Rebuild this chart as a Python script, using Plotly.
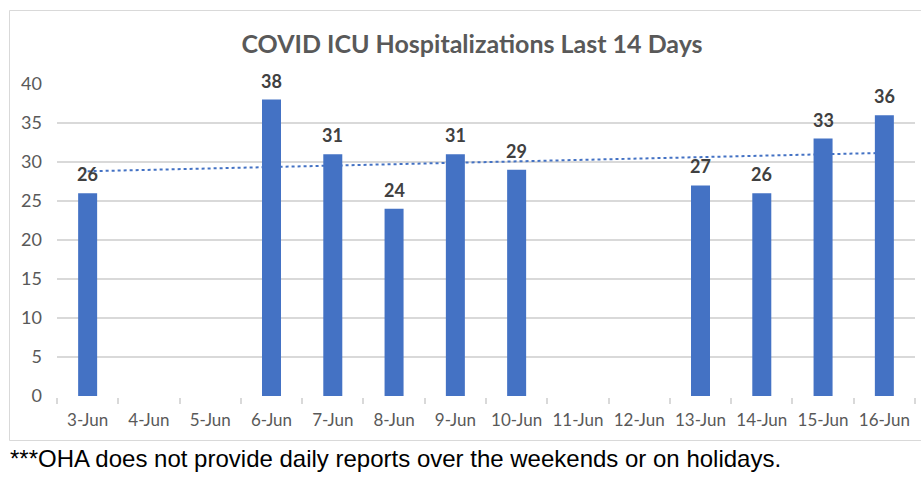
import numpy as np
import plotly.graph_objects as go

days = ["3-Jun", "4-Jun", "5-Jun", "6-Jun", "7-Jun", "8-Jun", "9-Jun",
        "10-Jun", "11-Jun", "12-Jun", "13-Jun", "14-Jun", "15-Jun", "16-Jun"]
icu = [26, None, None, 38, 31, 24, 31, 29, None, None, 27, 26, 33, 36]
y_ticks = [0, 5, 10, 15, 20, 25, 30, 35, 40]

title_text = "COVID ICU Hospitalizations Last 14 Days"
footnote = "***OHA does not provide daily reports over the weekends or on holidays."

BLUE = "#4472C4"
GRID = "#d9d9d9"

# linear trendline (Excel-style) over reported days
idx = np.array([i + 1 for i, v in enumerate(icu) if v is not None], dtype=float)
vals = np.array([v for v in icu if v is not None], dtype=float)
slope, intercept = np.polyfit(idx, vals, 1)
trend = [slope * (i + 1) + intercept for i in range(len(days))]

fig = go.Figure()
fig.add_trace(go.Scatter(
    x=days, y=trend, mode="lines",
    line=dict(color=BLUE, width=2, dash="dot"),
    hoverinfo="skip", zorder=0, showlegend=False,
))
fig.add_trace(go.Bar(
    x=days, y=icu, marker=dict(color=BLUE, line=dict(width=0)),
    width=0.31, zorder=1, showlegend=False,
))

for d, v in zip(days, icu):
    if v is None:
        continue
    fig.add_annotation(
        x=d, y=v, text=f"<b>{v}</b>", showarrow=False,
        yanchor="bottom", yshift=6,
        font=dict(family="Lato, Open Sans, sans-serif", size=18, color="#404040"),
    )

# plot area geometry (px)
L, R, T, B = 57, 6, 84, 97
W, H = 921, 493
pw, ph = W - L - R, H - T - B

def px_x(p):
    return (p - L) / pw

def px_y(p):
    return (H - B - p) / ph

fig.add_shape(
    type="rect", xref="paper", yref="paper",
    x0=px_x(9.5), x1=px_x(930), y0=px_y(440.5), y1=px_y(10.5),
    line=dict(color=GRID, width=1), fillcolor="rgba(0,0,0,0)", layer="below",
)

fig.add_annotation(
    xref="paper", yref="paper", x=px_x(8), y=px_y(458),
    xanchor="left", yanchor="middle", showarrow=False,
    text=footnote,
    font=dict(family="Liberation Sans, Arial, sans-serif", size=24, color="#000000"),
)

fig.update_layout(
    width=W, height=H,
    margin=dict(l=L, r=R, t=T, b=B),
    paper_bgcolor="white", plot_bgcolor="white",
    title=dict(
        text=f"<b>{title_text}</b>",
        x=472 / W, xanchor="center", y=1 - 44 / H, yanchor="middle",
        font=dict(family="Lato, Open Sans, sans-serif", size=25, color="#595959"),
    ),
    bargap=0.69,
    xaxis=dict(
        type="category", categoryorder="array", categoryarray=days,
        showgrid=False, showline=True, linecolor=GRID, linewidth=1.5,
        ticks="outside", tickson="boundaries", ticklen=6, tickcolor=GRID, tickwidth=1.5,
        tickfont=dict(family="Lato, Open Sans, sans-serif", size=17, color="#595959"),
        ticklabelstandoff=8,
        fixedrange=True,
    ),
    yaxis=dict(
        range=[0, 40], tickvals=y_ticks, showgrid=True, gridcolor=GRID, gridwidth=1.5,
        showline=False, zeroline=False, ticks="",
        tickfont=dict(family="Lato, Open Sans, sans-serif", size=18, color="#595959"),
        ticklabelstandoff=14,
        fixedrange=True,
    ),
)

fig.write_html("out.html", config={"displayModeBar": False},
               post_script="document.body.style.margin='0';")
